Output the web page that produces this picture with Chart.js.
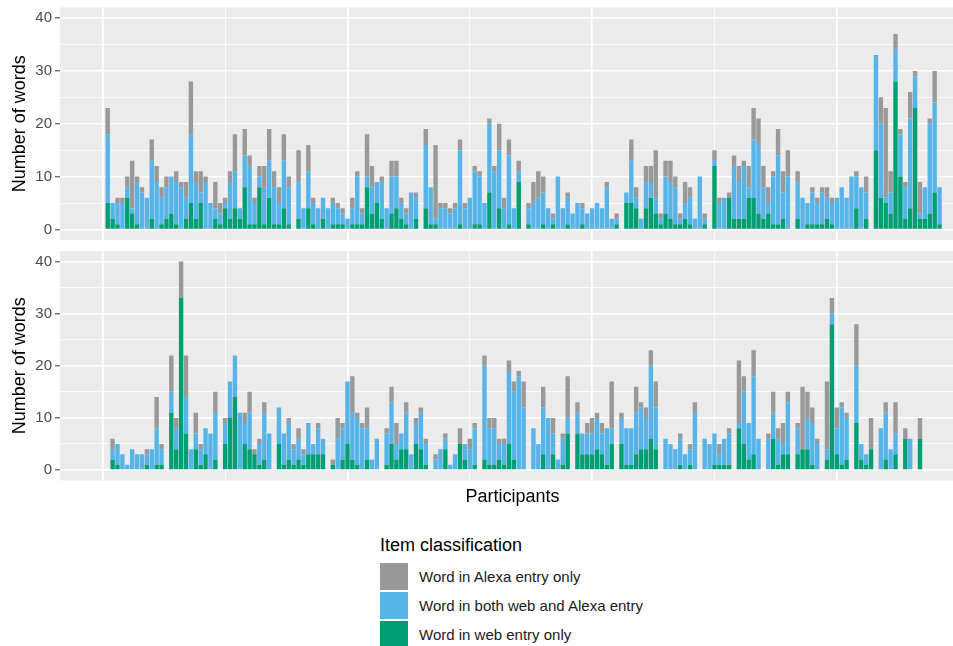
<!DOCTYPE html>
<html>
<head>
<meta charset="utf-8">
<script src="https://cdn.jsdelivr.net/npm/chart.js@4.4.1/dist/chart.umd.min.js"></script>
<style>
  body { margin: 0; background: #fff; overflow: hidden; width: 953px; height: 646px; position: relative;
         font-family: "Liberation Sans", Arial, sans-serif; }
  canvas { position: absolute; left: 0; }
  #topChart { top: 0; }
  #bottomChart { top: 251px; }
  .legendTitle { position: absolute; left: 380px; top: 534px; font-size: 18px; line-height: 22px; color: #000; }
  .key { position: absolute; left: 380px; width: 28px; height: 27px; }
  .keyLabel { position: absolute; left: 419px; font-size: 15px; line-height: 27px; color: #1a1a1a; }
</style>
</head>
<body>
<canvas id="topChart" width="965" height="240"></canvas>
<canvas id="bottomChart" width="965" height="260"></canvas>

<div class="legendTitle">Item classification</div>
<div class="key" style="top:563px;background:#999999"></div>
<div class="keyLabel" style="top:563px">Word in Alexa entry only</div>
<div class="key" style="top:592px;background:#56B4E9"></div>
<div class="keyLabel" style="top:592px">Word in both web and Alexa entry</div>
<div class="key" style="top:621px;background:#009E73"></div>
<div class="keyLabel" style="top:621px">Word in web entry only</div>

<script>
// participant ids 1..171 on the x axis
var participants = [];
for (var p = 1; p <= 171; p++) participants.push(p);

var yBreaks = [0, 5, 10, 15, 20, 25, 30, 35, 40];
var xBreaks = [0, 25, 50, 75, 100, 125, 150];

// top panel
var topWeb = [
  5,2,1,0,6,3,1,0,0,2, 0,1,2,3,1,0,2,5,2,5, 0,0,2,1,4,2,4,2,8,1, 1,8,1,6,1,1,4,1,null,2,
  0,4,1,0,2,0,1,1,1,0, 1,1,1,8,3,5,2,0,3,4, 2,1,0,2,null,4,1,1,0,0, 0,0,1,0,0,1,1,0,7,0,
  4,0,1,0,9,null,1,0,0,1, 0,1,0,0,1,0,0,1,0,0, 0,0,0,0,1,null,5,5,4,0, 4,6,3,1,3,2,1,1,2,1,
  0,0,1,null,12,0,0,6,2,2, 2,6,6,3,2,3,1,1,2,0, null,2,0,1,1,1,1,2,1,0, 0,0,0,4,0,2,null,15,6,5,
  3,28,10,2,4,23,2,2,3,7,1
];
var topBoth = [
  13,3,4,5,2,1,8,7,6,11, 9,5,6,7,8,8,4,13,7,2, 9,5,2,2,1,7,7,2,6,11, 4,2,7,7,7,4,9,7,null,7,
  4,7,4,4,4,4,4,3,2,2, 3,9,2,2,5,4,7,4,7,6, 3,2,7,4,null,12,7,1,4,4, 3,4,14,4,6,10,9,5,13,11,
  11,4,13,4,2,null,3,5,6,6, 4,1,10,4,5,3,5,3,3,4, 5,4,8,2,1,null,2,8,2,2, 5,3,3,1,7,7,7,1,3,5,
  2,10,1,null,1,5,6,0,10,7, 10,2,11,13,6,2,9,13,5,10, null,7,6,4,6,4,6,4,4,6, 8,6,10,6,8,5,null,18,14,1,
  4,6,8,6,17,6,1,6,17,17,7
];
var topAlexa = [
  5,0,1,1,2,9,1,1,0,4, 3,2,2,0,2,1,3,10,2,4, 1,0,5,2,1,2,7,0,5,2, 1,2,4,6,3,3,5,2,null,6,
  0,5,1,0,0,0,1,1,1,0, 2,1,1,8,4,0,1,0,3,3, 1,1,0,1,null,3,0,14,1,1, 1,1,2,1,0,1,1,0,1,1,
  5,2,3,0,2,null,1,4,5,3, 0,1,0,0,1,0,0,1,0,0, 0,0,1,0,1,null,0,4,2,0, 3,3,9,1,3,4,2,1,4,2,
  0,0,1,null,2,1,0,1,2,3, 1,4,6,5,4,3,1,5,4,5, null,2,0,0,1,1,1,2,1,0, 0,0,0,1,0,3,null,0,5,17,
  4,3,1,1,5,1,6,0,1,6,0
];

// bottom panel
var bottomWeb = [
  null,2,1,0,0,0,0,0,1,0, 1,1,null,11,4,33,7,0,4,1, 3,0,2,null,5,10,14,0,5,4, 3,1,2,0,null,5,1,2,1,2,
  1,3,3,3,3,null,1,0,2,5, 2,1,0,2,0,0,null,1,5,2, 4,4,0,5,4,1,null,0,0,4, 0,0,5,2,0,1,null,2,1,1,
  2,1,5,2,0,0,null,0,0,3, 0,3,0,1,7,null,7,3,3,3, 4,3,1,5,null,5,1,1,3,4, 4,6,4,null,0,0,0,1,0,1,
  0,null,0,0,1,1,1,1,null,8, 5,2,3,0,null,0,6,1,3,3, null,3,4,4,1,0,null,2,28,3, 1,2,null,9,2,1,4,null,0,2,
  0,3,null,6,0,null,6,null,null,null,null
];
var bottomBoth = [
  null,2,4,3,1,4,3,3,2,4, 7,3,null,4,4,0,7,4,3,3, 5,7,9,null,4,7,8,11,4,7, 0,4,9,7,null,7,6,7,3,4,
  2,6,2,5,3,null,0,6,6,12, 9,9,8,6,2,6,null,6,8,3, 3,7,3,4,7,4,null,2,4,2, 1,3,0,3,4,7,null,18,7,7,
  3,4,14,13,18,12,null,8,5,9, 10,4,2,5,3,null,4,4,4,4, 6,4,7,3,null,5,7,7,8,8, 6,14,8,null,6,5,4,5,3,3,
  11,null,6,5,6,2,5,6,null,1, 10,7,15,6,null,6,5,5,2,10, null,5,0,6,8,5,null,2,2,5, 11,8,null,11,3,2,0,null,8,9,
  4,4,null,0,6,null,0,null,null,null,null
];
var bottomAlexa = [
  null,2,0,0,0,0,0,0,1,0, 6,1,null,7,2,7,8,0,4,1, 0,0,4,null,1,0,0,0,2,4, 1,1,2,0,null,0,0,1,1,2,
  1,0,0,1,0,null,1,4,1,0, 7,1,1,4,0,0,null,1,3,4, 0,2,0,1,1,1,null,1,0,1, 0,0,3,0,2,1,null,2,2,2,
  1,1,2,2,1,5,null,0,0,4, 0,3,0,1,8,null,2,0,2,3, 1,2,0,9,null,1,0,0,5,1, 2,3,5,null,0,0,0,1,0,1,
  2,null,0,0,0,2,0,1,null,12, 3,0,5,0,null,1,4,2,4,2, null,1,12,5,3,1,null,13,3,4, 1,1,null,8,0,0,6,null,0,2,
  0,6,null,2,0,null,4,null,null,null,null
];

Chart.defaults.font.family = "'Liberation Sans', Arial, sans-serif";

var panelBg = {
  id: 'panelBg',
  beforeDraw: function(chart) {
    var a = chart.chartArea, ctx = chart.ctx;
    ctx.save();
    ctx.fillStyle = '#EBEBEB';
    ctx.fillRect(a.left, a.top, a.right - a.left, a.bottom - a.top);
    ctx.restore();
  }
};

function points(vals) {
  return participants.map(function(p, i) { return {x: p, y: vals[i]}; })
    .filter(function(d) { return d.y !== null; });
}

function series(web, both, alexa) {
  var common = {barPercentage: 0.9, categoryPercentage: 1, borderWidth: 0};
  return [
    Object.assign({label: 'Word in web entry only', data: points(web), backgroundColor: '#009E73'}, common),
    Object.assign({label: 'Word in both web and Alexa entry', data: points(both), backgroundColor: '#56B4E9'}, common),
    Object.assign({label: 'Word in Alexa entry only', data: points(alexa), backgroundColor: '#999999'}, common)
  ];
}

function panelOptions(padTop, xHeight, showXTitle) {
  return {
    responsive: false,
    animation: false,
    devicePixelRatio: 1,
    layout: {padding: {top: padTop, left: 0, right: 0, bottom: 0}},
    plugins: {legend: {display: false}, tooltip: {enabled: false}},
    scales: {
      x: {
        type: 'linear', min: -8.75, max: 176.2, stacked: true, offset: false,
        border: {display: false},
        grid: {
          color: '#FFFFFF', drawTicks: false, offset: false,
          lineWidth: function(c) { return c.tick && c.tick.value % 50 === 0 ? 1.6 : 0.8; }
        },
        ticks: {display: false},
        title: {display: showXTitle, text: 'Participants', color: '#000', font: {size: 18},
                padding: {top: 0, bottom: 3}},
        afterBuildTicks: function(s) { s.ticks = xBreaks.map(function(v) { return {value: v}; }); },
        afterFit: function(s) { s.height = xHeight; s.paddingLeft = 0; s.paddingRight = 0; }
      },
      y: {
        min: -2, max: 42, stacked: true,
        border: {display: false},
        grid: {
          color: '#FFFFFF', tickLength: 5, tickWidth: 1,
          lineWidth: function(c) { return c.tick && c.tick.value % 10 === 0 ? 1.6 : 0.8; },
          tickColor: function(c) { return c.tick && c.tick.value % 10 === 0 ? '#333333' : 'rgba(0,0,0,0)'; }
        },
        ticks: {
          padding: 3, color: '#4D4D4D', font: {size: 15}, autoSkip: false,
          callback: function(v) { return v % 10 === 0 ? v : ''; }
        },
        title: {display: true, text: 'Number of words', color: '#000', font: {size: 18},
                padding: {top: 9, bottom: 0}},
        afterBuildTicks: function(s) { s.ticks = yBreaks.map(function(v) { return {value: v}; }); },
        afterFit: function(s) { s.width = 60; s.paddingTop = 0; s.paddingBottom = 0; }
      }
    }
  };
}

new Chart(document.getElementById('topChart'), {
  type: 'bar',
  data: {datasets: series(topWeb, topBoth, topAlexa)},
  options: panelOptions(7.5, 0, false),
  plugins: [panelBg]
});

new Chart(document.getElementById('bottomChart'), {
  type: 'bar',
  data: {datasets: series(bottomWeb, bottomBoth, bottomAlexa)},
  options: panelOptions(0.2, 30.6, true),
  plugins: [panelBg]
});
</script>
</body>
</html>
